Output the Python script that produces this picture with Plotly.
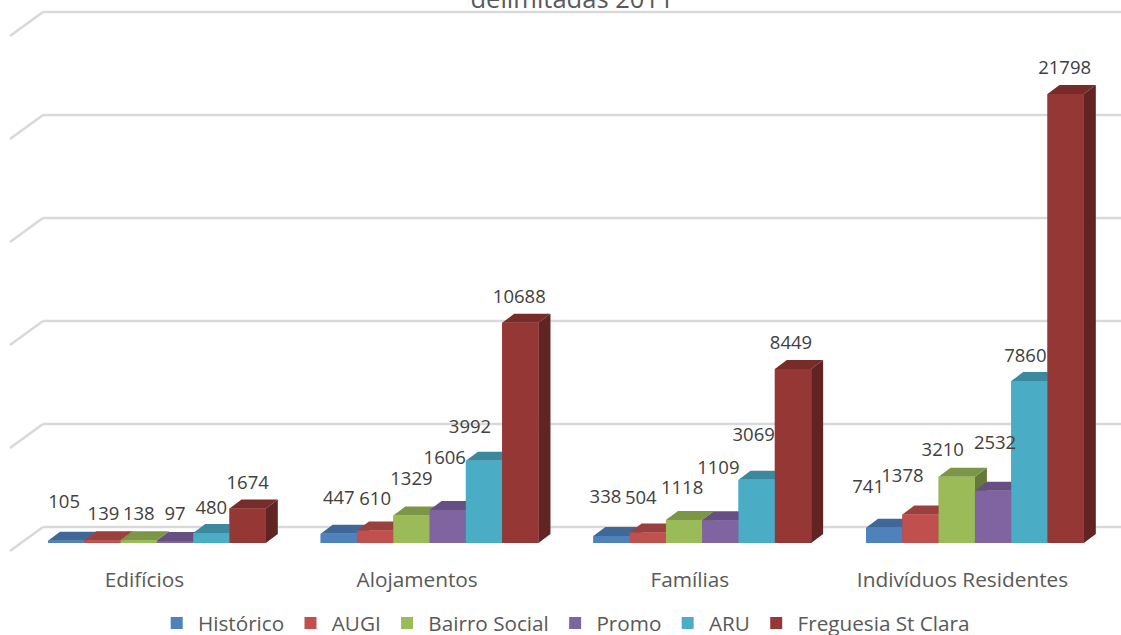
import plotly.graph_objects as go

# ---- data ----
categories = ["Edifícios", "Alojamentos", "Famílias", "Indivíduos Residentes"]
historico = [105, 447, 338, 741]
augi = [139, 610, 504, 1378]
bairro_social = [138, 1329, 1118, 3210]
promo = [97, 1606, 1109, 2532]
aru = [480, 3992, 3069, 7860]
freguesia = [1674, 10688, 8449, 21798]
series_names = ["Histórico", "AUGI", "Bairro Social", "Promo", "ARU", "Freguesia St Clara"]
series_values = [historico, augi, bairro_social, promo, aru, freguesia]
grid_values = [0, 5000, 10000, 15000, 20000, 25000]

# ---- styles ----
front = ["#4F81BD", "#C0504D", "#9BBB59", "#8064A2", "#4BACC6", "#953735"]
top = ["#3F6797", "#9A403E", "#7C9647", "#664F82", "#3C899E", "#772C2A"]
side = ["#335479", "#7D3432", "#65793A", "#533F69", "#317080", "#612422"]
FONT = "Open Sans"
W, H = 1121, 635
BOTTOM_M = 70
PX_Y = 0.0206       # px per value unit
PX_X = 272.67       # px per category
TICK0 = 144.5       # px of first category tick
FLOOR = 543         # px of value 0 at bar front
BAR_PX = 36.3
DEPTH_X, DEPTH_Y = 12, 9
BAR_START = (48 - TICK0) / PX_X
BW = BAR_PX / PX_X
DX, DY = DEPTH_X / PX_X, DEPTH_Y / PX_Y

# label nudges (px) relative to bar top centre: one row per category, one column per series
nudge_x = [[-2, 1, 0, 0, 0, 0], [0, 0, 0, -3, -14, -1], [-6, -7, -2, -2, -3, -2], [-16, -18, -14, 2, -4, -1]]
nudge_y = [[37, 25, 25, 26, 24, 24], [34, 30, 35, 51, 32, 24], [38, 33, 31, 51, 43, 25], [39, 37, 25, 46, 24, 25]]

fig = go.Figure()

# real bars, carrying the legend
lefts = [[i + BAR_START + j * BW for i in range(len(categories))] for j in range(6)]
for j, name in enumerate(series_names):
    fig.add_trace(go.Bar(x=[l + BW / 2 for l in lefts[j]], y=series_values[j], width=BW, name=name,
                         marker=dict(color=front[j], line=dict(width=0)), hoverinfo="name+y"))


def polys(shapes):
    xs, ys = [], []
    for s in shapes:
        xs += [p[0] for p in s] + [s[0][0], None]
        ys += [p[1] for p in s] + [s[0][1], None]
    return xs, ys


# 3-D faces, painted left to right so nearer bars cover farther ones
for j in range(6):
    vals = series_values[j]
    side_p, top_p, front_p = [], [], []
    for l, v in zip(lefts[j], vals):
        r = l + BW
        side_p.append([(r, 0), (r + DX, DY), (r + DX, v + DY), (r, v)])
        top_p.append([(l, v), (r, v), (r + DX, v + DY), (l + DX, v + DY)])
        front_p.append([(l, 0), (r, 0), (r, v), (l, v)])
    for p, c in ((side_p, side[j]), (top_p, top[j]), (front_p, front[j])):
        xs, ys = polys(p)
        fig.add_trace(go.Scatter(x=xs, y=ys, mode="lines", fill="toself", fillcolor=c, line=dict(width=0),
                                 showlegend=False, hoverinfo="skip"))

# data labels
lx, ly, lt = [], [], []
for j in range(6):
    for i, v in enumerate(series_values[j]):
        lx.append(lefts[j][i] + BW / 2 + nudge_x[i][j] / PX_X)
        ly.append(v + nudge_y[i][j] / PX_Y)
        lt.append(str(v))
fig.add_trace(go.Scatter(x=lx, y=ly, text=lt, mode="text", textposition="middle center",
                         textfont=dict(family=FONT, size=18.5, color="#404040"),
                         showlegend=False, hoverinfo="skip"))

# back wall gridlines with their oblique side-wall part
x_min, x_max = (0 - TICK0) / PX_X, (W - TICK0) / PX_X
wall_x0 = (10 - TICK0) / PX_X
wall_x1 = (43 - TICK0) / PX_X
shapes = []
for g in grid_values:
    yb = g + 16 / PX_Y
    yf = yb - 24 / PX_Y
    grid_line = dict(color="#D9D9D9", width=2.5)
    shapes.append(dict(type="line", xref="x", yref="y", layer="below", x0=wall_x0, y0=yf, x1=wall_x1, y1=yb, line=grid_line))
    shapes.append(dict(type="line", xref="x", yref="y", layer="below", x0=wall_x1, y0=yb, x1=x_max, y1=yb, line=grid_line))

plot_bottom = H - BOTTOM_M
fig.update_layout(
    width=W, height=H, autosize=False,
    margin=dict(l=0, r=0, t=0, b=BOTTOM_M, pad=0),
    paper_bgcolor="white", plot_bgcolor="white",
    barmode="overlay", showlegend=True, shapes=shapes,
    font=dict(family=FONT, color="#595959"),
    title=dict(text="delimitadas 2011", x=572 / W, xanchor="center", xref="paper",
               y=1 - 8 / H, yref="container", yanchor="bottom", font=dict(family=FONT, size=25.5, color="#595959")),
    xaxis=dict(range=[x_min, x_max], tickmode="array", tickvals=list(range(4)), ticktext=categories,
               showgrid=False, zeroline=False, showline=False, ticks="",
               tickfont=dict(family=FONT, size=20.8, color="#595959")),
    yaxis=dict(range=[(FLOOR - plot_bottom) / PX_Y, FLOOR / PX_Y], showgrid=False, zeroline=False,
               showticklabels=False, ticks="", showline=False),
    legend=dict(orientation="h", x=155.4 / W, xanchor="left", y=(H - 623) / H, yref="container", yanchor="middle",
                itemwidth=32.6,
                font=dict(family=FONT, size=20.7, color="#595959"), bgcolor="rgba(0,0,0,0)", traceorder="normal"),
)

fig.write_html("out.html", post_script="document.body.style.margin='0';document.body.style.overflow='hidden';",
               config={"displayModeBar": False})
